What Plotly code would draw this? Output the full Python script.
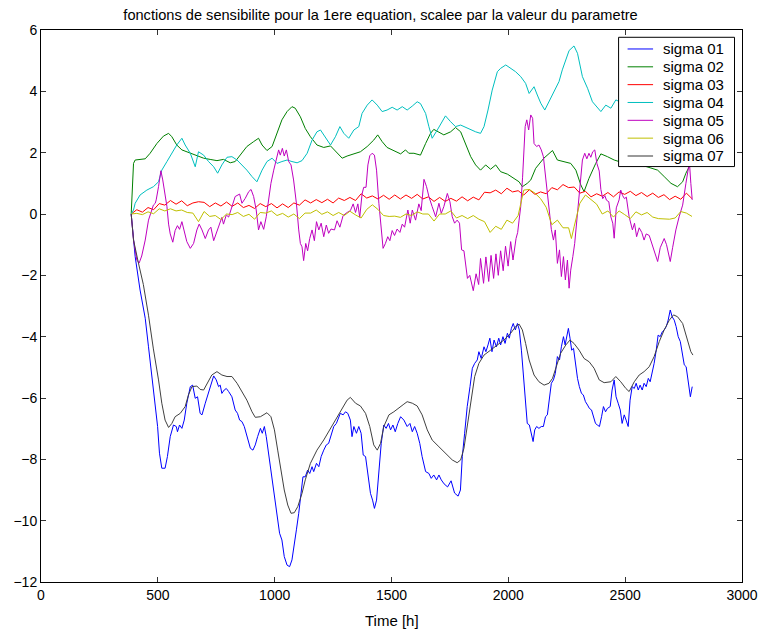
import plotly.graph_objects as go

# Sensitivity functions (scaled by parameter value), time in hours
sigma01 = [(386, 0), (396, -0.8), (403, -1.39), (424, -2.48), (446, -3.4), (460, -4.33), (474, -5.3),
           (489, -6.17), (499, -6.93), (507, -7.8), (517, -8.29), (531, -8.29), (541, -7.91), (553, -7.26),
           (567, -6.88), (579, -6.93), (584, -7.1), (593, -6.88), (603, -6.99), (613, -6.72), (624, -6.17),
           (639, -5.63), (649, -5.58), (660, -6.01), (670, -5.96), (681, -6.5), (689, -6.55), (703, -6.17),
           (721, -5.74), (739, -5.28), (750, -5.41), (760, -5.63), (767, -5.58), (774, -5.85), (784, -5.74),
           (793, -5.69), (803, -5.79), (817, -5.96), (831, -6.39), (841, -6.5), (850, -6.72), (860, -6.77),
           (870, -6.93), (881, -7.21), (896, -7.64), (907, -7.7), (917, -7.53), (927, -7.26), (939, -6.99),
           (947, -7.15), (956, -6.93), (964, -7.26), (974, -7.8), (989, -8.57), (999, -9.11), (1010, -9.76),
           (1021, -10.41), (1031, -10.63), (1041, -11.17), (1053, -11.45), (1064, -11.5), (1074, -11.28),
           (1081, -10.85), (1093, -10.3), (1103, -9.76), (1113, -9.11), (1121, -8.57), (1131, -8.57),
           (1141, -8.35), (1150, -8.46), (1160, -8.24), (1167, -8.4), (1179, -8.13), (1189, -8.24),
           (1199, -7.91), (1210, -7.7), (1221, -7.53), (1231, -7.48), (1241, -7.26), (1253, -6.93),
           (1264, -6.83), (1270, -6.72), (1281, -6.5), (1293, -6.55), (1303, -6.45), (1313, -6.5),
           (1324, -6.72), (1331, -7.26), (1339, -6.93), (1350, -7.15), (1360, -6.93), (1370, -7.15),
           (1379, -7.86), (1389, -7.91), (1399, -8.46), (1410, -9.11), (1419, -9.33), (1427, -9.6),
           (1436, -9.33), (1446, -8.46), (1456, -7.48), (1467, -6.88), (1477, -6.99), (1487, -6.83),
           (1496, -7.04), (1506, -6.88), (1516, -7.1), (1527, -6.83), (1539, -6.61), (1553, -6.72),
           (1567, -6.93), (1579, -6.83), (1589, -7.1), (1599, -6.93), (1610, -7.15), (1621, -7.48),
           (1631, -7.91), (1646, -8.4), (1660, -8.46), (1670, -8.62), (1681, -8.51), (1693, -8.67),
           (1703, -8.51), (1713, -8.67), (1725, -8.8), (1740, -8.9), (1755, -8.7), (1770, -9.1),
           (1785, -9.2), (1795, -9.0), (1803, -7.91), (1813, -7.15), (1824, -6.28), (1836, -5.63),
           (1846, -5.03), (1856, -4.87), (1867, -4.76), (1874, -4.49), (1884, -4.71), (1896, -4.33),
           (1904, -4.49), (1913, -4.27), (1921, -4.05), (1930, -4.49), (1939, -4.11), (1949, -4.33),
           (1959, -4.05), (1967, -4.27), (1977, -4.0), (1986, -4.22), (1996, -3.89), (2004, -4.05),
           (2013, -3.73), (2021, -3.57), (2030, -3.78), (2039, -3.57), (2047, -3.78), (2056, -4.44),
           (2064, -5.3), (2073, -6.07), (2081, -6.83), (2090, -6.88), (2099, -7.15), (2106, -7.42),
           (2113, -7.04), (2121, -6.93), (2131, -6.99), (2141, -6.93), (2150, -6.93), (2159, -6.61),
           (2167, -6.55), (2176, -6.07), (2184, -5.52), (2193, -5.41), (2201, -5.2), (2210, -4.65),
           (2219, -4.76), (2227, -4.33), (2236, -4.0), (2243, -4.27), (2250, -4.0), (2257, -3.73),
           (2264, -4.05), (2271, -4.44), (2279, -4.38), (2287, -4.87), (2296, -5.36), (2304, -5.63),
           (2313, -5.85), (2321, -5.9), (2330, -6.12), (2339, -6.23), (2347, -6.34), (2356, -6.39),
           (2364, -6.61), (2373, -6.83), (2381, -6.88), (2390, -6.93), (2399, -6.61), (2407, -6.28),
           (2416, -6.45), (2424, -6.34), (2436, -6.28), (2444, -5.74), (2453, -5.41), (2461, -5.96),
           (2470, -6.17), (2479, -6.39), (2487, -6.83), (2496, -6.55), (2504, -6.72), (2513, -6.93),
           (2521, -6.07), (2530, -5.63), (2539, -5.69), (2547, -5.52), (2556, -5.74), (2564, -5.58),
           (2573, -5.74), (2581, -5.52), (2590, -5.63), (2599, -5.36), (2607, -5.47), (2616, -5.2),
           (2624, -4.87), (2633, -4.44), (2641, -3.95), (2650, -4.0), (2659, -3.84), (2667, -3.78),
           (2676, -3.67), (2684, -3.46), (2693, -3.13), (2701, -3.35), (2710, -3.46), (2718, -3.67),
           (2727, -4.0), (2736, -4.16), (2744, -4.49), (2753, -4.92), (2761, -4.98), (2770, -5.52),
           (2779, -5.96), (2787, -5.63)]

sigma02 = [(386, 0), (392, 1.0), (396, 1.65), (403, 1.76), (424, 1.78), (446, 1.8), (467, 1.98), (496, 2.3),
           (524, 2.54), (546, 2.63), (560, 2.52), (581, 2.25), (603, 2.09), (624, 2.03), (646, 1.96),
           (667, 1.89), (696, 1.82), (724, 1.78), (753, 1.74), (781, 1.78), (810, 1.67), (831, 1.71),
           (853, 1.92), (881, 2.2), (910, 2.36), (931, 2.47), (946, 2.25), (967, 2.07), (989, 2.2),
           (1010, 2.63), (1031, 3.07), (1053, 3.34), (1074, 3.5), (1088, 3.45), (1110, 3.17), (1131, 2.79),
           (1153, 2.52), (1181, 2.25), (1210, 2.17), (1239, 2.22), (1267, 1.98), (1289, 1.82), (1310, 1.89),
           (1339, 1.96), (1367, 2.03), (1396, 2.2), (1424, 2.41), (1441, 2.58), (1460, 2.36), (1481, 2.17),
           (1510, 2.07), (1539, 1.96), (1560, 2.09), (1574, 1.98), (1596, 1.98), (1624, 1.92), (1646, 2.3),
           (1667, 2.63), (1681, 2.76), (1703, 2.68), (1724, 2.58), (1753, 2.68), (1774, 2.82), (1796, 2.68),
           (1817, 2.3), (1839, 1.87), (1860, 1.6), (1881, 1.43), (1903, 1.6), (1924, 1.46), (1946, 1.6),
           (1967, 1.38), (1996, 1.3), (2024, 1.16), (2046, 1.05), (2060, 0.89), (2081, 1.0), (2096, 1.11),
           (2117, 1.49), (2152, 1.82), (2189, 2.07), (2210, 1.76), (2238, 1.7), (2267, 1.65), (2289, 1.43),
           (2310, 0.95), (2324, 0.73), (2345, 1.16), (2374, 1.65), (2396, 1.96), (2424, 1.87), (2453, 1.76),
           (2474, 1.71), (2510, 1.6), (2540, 1.62), (2567, 1.6), (2610, 1.5), (2639, 1.43), (2667, 1.22),
           (2696, 1.0), (2724, 0.89), (2746, 1.05), (2760, 1.33), (2774, 1.54)]

sigma03 = [(386, 0), (410, 0.14), (434, 0.06), (458, 0.21), (482, 0.14), (506, 0.34), (530, 0.29), (554, 0.44),
           (578, 0.32), (602, 0.43), (626, 0.27), (650, 0.36), (674, 0.4), (698, 0.38), (722, 0.24),
           (746, 0.36), (770, 0.26), (794, 0.39), (818, 0.25), (842, 0.36), (866, 0.21), (890, 0.28),
           (914, 0.18), (938, 0.34), (962, 0.24), (986, 0.34), (1010, 0.2), (1034, 0.33), (1058, 0.21),
           (1082, 0.36), (1106, 0.29), (1130, 0.46), (1154, 0.36), (1178, 0.47), (1202, 0.37), (1226, 0.48),
           (1250, 0.36), (1274, 0.52), (1298, 0.44), (1322, 0.54), (1346, 0.44), (1370, 0.66), (1394, 0.52),
           (1418, 0.59), (1442, 0.49), (1466, 0.61), (1490, 0.48), (1514, 0.62), (1538, 0.49), (1562, 0.62),
           (1586, 0.51), (1610, 0.64), (1634, 0.49), (1658, 0.56), (1682, 0.41), (1706, 0.54), (1730, 0.41),
           (1754, 0.51), (1778, 0.42), (1802, 0.56), (1826, 0.43), (1850, 0.55), (1874, 0.46), (1898, 0.71),
           (1922, 0.69), (1946, 0.78), (1970, 0.66), (1994, 0.84), (2018, 0.72), (2042, 0.76), (2066, 0.62),
           (2090, 0.79), (2114, 0.64), (2138, 0.72), (2162, 0.66), (2186, 0.86), (2210, 0.79), (2234, 0.96),
           (2258, 0.86), (2282, 0.88), (2306, 0.68), (2330, 0.74), (2354, 0.56), (2378, 0.66), (2402, 0.58),
           (2426, 0.7), (2450, 0.56), (2474, 0.72), (2498, 0.64), (2522, 0.74), (2546, 0.6), (2570, 0.7),
           (2594, 0.57), (2618, 0.68), (2642, 0.54), (2666, 0.63), (2690, 0.47), (2714, 0.58), (2738, 0.48),
           (2762, 0.68), (2786, 0.5)]

sigma04 = [(386, 0), (396, 0.13), (403, 0.35), (424, 0.62), (453, 0.78), (481, 0.89), (503, 1.05), (517, 1.43),
           (539, 1.71), (560, 1.98), (581, 2.25), (603, 2.47), (617, 2.25), (639, 1.98), (660, 1.54),
           (674, 2.03), (696, 1.92), (717, 1.71), (739, 1.54), (756, 1.33), (774, 1.6), (796, 1.85),
           (817, 1.87), (839, 1.76), (860, 1.6), (881, 1.43), (903, 1.22), (924, 1.05), (946, 1.43),
           (967, 1.71), (989, 1.82), (1010, 1.65), (1031, 1.71), (1053, 1.76), (1074, 1.71), (1096, 1.67),
           (1117, 1.74), (1139, 1.98), (1160, 2.41), (1181, 2.68), (1196, 2.74), (1217, 2.52), (1239, 2.25),
           (1260, 2.52), (1279, 2.85), (1296, 2.63), (1317, 2.47), (1339, 2.74), (1360, 2.85), (1374, 3.28),
           (1396, 3.55), (1417, 3.72), (1439, 3.55), (1460, 3.34), (1481, 3.39), (1503, 3.48), (1524, 3.39),
           (1546, 3.5), (1567, 3.39), (1589, 3.52), (1610, 3.66), (1624, 3.6), (1646, 3.28), (1660, 2.85),
           (1674, 2.47), (1696, 2.74), (1717, 3.01), (1731, 3.2), (1753, 3.01), (1774, 2.85), (1796, 2.9),
           (1817, 2.83), (1839, 2.74), (1860, 2.68), (1881, 2.63), (1896, 2.85), (1913, 3.39), (1931, 4.04),
           (1953, 4.64), (1967, 4.75), (1989, 4.86), (2010, 4.75), (2031, 4.64), (2053, 4.48), (2074, 4.26),
           (2089, 3.93), (2110, 4.15), (2124, 3.88), (2139, 3.61), (2156, 3.39), (2174, 3.66), (2196, 4.04),
           (2217, 4.32), (2231, 4.7), (2246, 5.02), (2260, 5.33), (2281, 5.48), (2296, 5.24), (2317, 4.48),
           (2339, 4.1), (2360, 3.66), (2381, 3.45), (2396, 3.34), (2417, 3.55), (2439, 3.45), (2460, 3.72),
           (2480, 3.65), (2520, 3.8), (2560, 3.7), (2600, 3.9), (2640, 3.8), (2680, 3.7), (2720, 3.6),
           (2760, 3.5), (2786, 3.5)]

sigma05 = [(386, 0), (396, -0.85), (410, -1.5), (420, -1.6), (431, -1.37), (446, -0.85), (460, -0.2),
           (474, 0.13), (481, 0.29), (489, 0.35), (493, 0.46), (503, 0.89), (513, 1.41), (521, 1.11),
           (531, 0.67), (539, 0.24), (546, -0.33), (553, -0.65), (564, -0.92), (574, -0.54), (584, -0.38),
           (593, -0.5), (603, -0.25), (613, -0.52), (624, -0.9), (639, -1.12), (653, -0.96), (667, -0.52),
           (677, -0.33), (689, -0.52), (703, -0.8), (717, -0.52), (727, -0.43), (739, -0.87), (753, -0.54),
           (764, -0.3), (774, -0.11), (781, -0.33), (793, -0.03), (803, -0.1), (817, 0.24), (831, 0.57),
           (850, 0.65), (860, 0.35), (874, 0.51), (889, 0.73), (899, 0.8), (910, 0.57), (921, 0.13),
           (931, -0.52), (941, -0.25), (953, -0.5), (964, -0.09), (974, 0.51), (984, 1.0), (996, 1.43),
           (1007, 1.82), (1017, 2.09), (1024, 1.92), (1033, 2.14), (1041, 1.89), (1050, 2.09), (1060, 1.71),
           (1070, 1.6), (1081, 1.11), (1093, 0.35), (1103, -0.52), (1110, -0.96), (1117, -1.07), (1124, -1.52),
           (1133, -0.96), (1141, -1.2), (1150, -0.8), (1160, -0.52), (1170, -0.87), (1179, -0.25), (1189, -0.52),
           (1199, -0.3), (1210, -0.74), (1221, -0.36), (1231, -0.63), (1241, -0.49), (1256, -0.52), (1267, -0.22),
           (1279, -0.43), (1293, -0.05), (1310, 0.05), (1324, 0.11), (1336, 0.33), (1346, 0.05), (1356, 0.33),
           (1364, -0.11), (1374, 0.65), (1381, 0.87), (1391, 0.87), (1399, 1.6), (1407, 1.9), (1417, 1.98),
           (1427, 1.92), (1436, 1.43), (1446, 0.35), (1456, -0.52), (1464, -1.12), (1474, -0.96), (1484, -0.74),
           (1493, -0.87), (1503, -0.54), (1513, -0.7), (1524, -0.49), (1536, -0.6), (1546, -0.33), (1556, -0.43),
           (1563, -0.2), (1570, 0.13), (1580, -0.3), (1589, 0.13), (1603, -0.2), (1617, 0.33), (1627, 0.11),
           (1639, 1.13), (1650, 0.89), (1660, 0.57), (1674, 0.24), (1689, -0.09), (1703, 0.35), (1713, 0.02),
           (1724, 0.24), (1739, 0.67), (1750, 0.4), (1760, -0.09), (1770, -0.3), (1781, -0.2), (1791, -0.3),
           (1800, -1.17), (1810, -1.2), (1817, -1.72), (1825, -2.1), (1835, -2.0), (1850, -2.5), (1862, -1.95),
           (1873, -2.3), (1881, -1.45), (1894, -2.26), (1904, -1.4), (1916, -2.2), (1926, -1.35), (1937, -2.1),
           (1947, -1.3), (1957, -2.0), (1967, -1.2), (1978, -1.85), (1988, -1.05), (1999, -1.7), (2010, -0.9),
           (2020, -1.5), (2033, -0.8), (2040, -0.6), (2046, -0.2), (2053, 0.24), (2061, 1.2), (2067, 2.3),
           (2072, 2.85), (2079, 3.07), (2087, 2.74), (2096, 3.23), (2104, 3.12), (2110, 2.3), (2121, 2.2),
           (2131, 2.25), (2141, 2.09), (2150, 1.87), (2160, 1.11), (2174, 0.24), (2184, -0.5), (2193, -0.85),
           (2201, -0.52), (2210, -1.61), (2219, -1.17), (2227, -2.04), (2236, -1.39), (2244, -2.15), (2253, -1.5),
           (2260, -2.42), (2267, -1.83), (2276, -1.39), (2284, -0.96), (2296, 0.03), (2305, 0.89), (2317, 1.76),
           (2327, 1.98), (2336, 1.8), (2345, 1.98), (2353, 1.85), (2361, 2.03), (2370, 2.09), (2379, 1.65),
           (2389, 1.4), (2396, 0.8), (2404, 0.5), (2413, 0.6), (2420, 0.45), (2430, 0.4), (2439, -0.1),
           (2447, -0.3), (2453, -0.79), (2462, 0.2), (2474, 0.46), (2481, 0.78), (2489, 0.6), (2497, 0.5),
           (2505, 0.55), (2517, -0.09), (2531, -0.52), (2540, -0.3), (2549, -0.74), (2560, -0.45), (2571, -0.6),
           (2581, -0.85), (2590, -0.65), (2603, -0.7), (2624, -1.17), (2639, -1.55), (2650, -1.1), (2667, -0.8),
           (2677, -1.0), (2693, -1.55), (2703, -1.1), (2717, -0.52), (2731, -0.09), (2746, 0.29), (2760, 1.0),
           (2769, 1.43), (2775, 1.7), (2781, 1.0), (2787, 0.46)]

sigma06 = [(386, 0), (410, 0.02), (434, -0.02), (458, 0.07), (482, 0.01), (506, 0.17), (530, 0.1), (554, 0.17),
           (578, 0.1), (602, 0.13), (626, 0.05), (650, 0.03), (674, -0.25), (698, 0.08), (722, -0.08),
           (746, -0.05), (770, -0.18), (794, 0.0), (818, -0.02), (842, 0.05), (866, -0.08), (890, -0.01),
           (914, -0.17), (938, 0.05), (962, 0.03), (986, 0.1), (1010, -0.05), (1034, 0.02), (1058, -0.1),
           (1082, 0.0), (1106, -0.15), (1130, 0.03), (1154, 0.03), (1178, 0.13), (1202, -0.01), (1226, 0.07),
           (1250, -0.05), (1274, 0.05), (1298, -0.05), (1322, 0.09), (1346, -0.03), (1370, -0.13), (1394, 0.15),
           (1418, 0.3), (1442, 0.15), (1466, -0.05), (1490, -0.08), (1514, -0.07), (1538, -0.11), (1562, 0.0),
           (1586, -0.05), (1610, 0.07), (1634, 0.0), (1658, 0.0), (1682, -0.23), (1706, 0.0), (1730, 0.0),
           (1754, 0.1), (1778, -0.13), (1802, -0.05), (1826, -0.15), (1850, -0.05), (1874, -0.17), (1898, -0.25),
           (1922, -0.6), (1946, -0.4), (1970, -0.5), (1994, -0.2), (2018, -0.3), (2042, -0.05), (2066, 0.78),
           (2090, 0.8), (2114, 0.68), (2138, 0.5), (2162, 0.22), (2186, -0.35), (2210, -0.2), (2234, -0.45),
           (2258, -0.45), (2270, -0.8), (2282, -0.4), (2306, 0.35), (2330, 0.62), (2354, 0.48), (2378, 0.32),
           (2402, 0.0), (2426, 0.1), (2450, -0.1), (2474, 0.1), (2498, -0.02), (2522, -0.15), (2546, 0.07),
           (2570, -0.03), (2594, 0.05), (2618, -0.1), (2642, -0.15), (2666, -0.17), (2690, -0.17), (2714, -0.13),
           (2738, 0.08), (2762, 0.03), (2786, -0.08)]

sigma07 = [(386, 0), (396, -0.85), (417, -1.6), (438, -2.3), (460, -3.3), (474, -4.1), (481, -4.4), (503, -5.41),
           (517, -6.17), (531, -6.72), (546, -6.96), (560, -6.83), (574, -6.61), (596, -6.5), (617, -6.28),
           (631, -5.9), (646, -5.63), (667, -5.61), (681, -5.72), (696, -5.74), (713, -5.52), (731, -5.25),
           (753, -5.14), (774, -5.25), (796, -5.3), (817, -5.3), (839, -5.52), (860, -5.79), (881, -6.07),
           (903, -6.45), (917, -6.63), (939, -6.61), (967, -6.48), (984, -6.61), (999, -7.04), (1013, -7.7),
           (1027, -8.35), (1041, -9.0), (1056, -9.49), (1070, -9.76), (1084, -9.74), (1099, -9.54),
           (1117, -9.11), (1131, -8.67), (1153, -8.13), (1181, -7.7), (1210, -7.37), (1239, -6.99),
           (1267, -6.61), (1289, -6.34), (1310, -6.07), (1324, -5.98), (1346, -6.17), (1367, -6.26),
           (1389, -6.5), (1407, -6.93), (1424, -7.53), (1439, -7.7), (1453, -7.48), (1467, -6.93),
           (1489, -6.55), (1510, -6.45), (1531, -6.34), (1553, -6.2), (1567, -6.12), (1589, -6.17),
           (1610, -6.26), (1631, -6.55), (1653, -7.04), (1674, -7.37), (1703, -7.59), (1731, -7.8),
           (1760, -8.02), (1781, -8.11), (1796, -8.02), (1810, -7.64), (1824, -6.93), (1839, -6.07),
           (1856, -5.3), (1874, -4.87), (1896, -4.6), (1924, -4.44), (1953, -4.27), (1981, -4.11),
           (2010, -3.89), (2031, -3.67), (2046, -3.59), (2060, -3.78), (2074, -4.22), (2089, -4.76),
           (2110, -5.25), (2131, -5.47), (2153, -5.58), (2174, -5.52), (2189, -5.36), (2203, -5.03),
           (2224, -4.54), (2246, -4.27), (2264, -4.11), (2281, -4.22), (2303, -4.44), (2324, -4.71),
           (2346, -4.82), (2367, -5.03), (2389, -5.41), (2410, -5.5), (2439, -5.47), (2460, -5.3),
           (2481, -5.47), (2503, -5.69), (2517, -5.79), (2539, -5.47), (2560, -5.25), (2581, -5.14),
           (2603, -4.98), (2624, -4.65), (2646, -4.16), (2667, -3.78), (2689, -3.46), (2707, -3.29),
           (2724, -3.35), (2746, -3.57), (2764, -4.05), (2781, -4.49), (2790, -4.6)]

series_names = ["sigma 01", "sigma 02", "sigma 03", "sigma 04", "sigma 05", "sigma 06", "sigma 07"]
series_data = [sigma01, sigma02, sigma03, sigma04, sigma05, sigma06, sigma07]
series_colors = ["#0000FF", "#008000", "#FF0000", "#00BFBF", "#BF00BF", "#BFBF00", "#404040"]
legend_swatch_colors = ["#0000FF", "#008000", "#FF0000", "#00BFBF", "#BF00BF", "#BFBF00", "#999999"]

x_ticks = [0, 500, 1000, 1500, 2000, 2500, 3000]
y_ticks = [-12, -10, -8, -6, -4, -2, 0, 2, 4, 6]

FONT = "Liberation Sans, Arial, Helvetica, sans-serif"

# Figure / axes box geometry in pixels
W, H = 761, 631
M_L, M_R, M_T, M_B = 41, 18.5, 30, 48.5
PLOT_W = W - M_L - M_R
PLOT_H = H - M_T - M_B


def px_x(px):
    """Horizontal pixel position -> paper fraction of the axes box."""
    return (px - M_L) / PLOT_W


def px_y(py):
    """Vertical pixel position (from top) -> paper fraction of the axes box."""
    return 1 - (py - M_T) / PLOT_H


fig = go.Figure()
for name, data, color in zip(series_names, series_data, series_colors):
    fig.add_trace(go.Scatter(
        x=[p[0] for p in data],
        y=[p[1] for p in data],
        mode="lines",
        name=name,
        line=dict(color=color, width=1),
        showlegend=False,
    ))

axis_style = dict(
    showgrid=False,
    zeroline=False,
    showline=True,
    linecolor="#000000",
    linewidth=1,
    mirror="ticks",
    ticks="inside",
    ticklen=5,
    tickcolor="#333333",
    automargin=False,
    tickfont=dict(family=FONT, size=14, color="#000000"),
)

# Boxed legend in the upper-right corner of the axes
LEG_L, LEG_R, LEG_T, LEG_B = 619, 735, 37.3, 166.7
ROW0, ROW_STEP = 49.0, 17.85
shapes = [dict(type="rect", xref="paper", yref="paper",
               x0=px_x(LEG_L), x1=px_x(LEG_R), y0=px_y(LEG_B), y1=px_y(LEG_T),
               fillcolor="white", line=dict(color="#000000", width=1), layer="above")]
annotations = []
for i, (name, color) in enumerate(zip(series_names, legend_swatch_colors)):
    yc = ROW0 + i * ROW_STEP
    shapes.append(dict(type="line", xref="paper", yref="paper",
                       x0=px_x(628), x1=px_x(653.5), y0=px_y(yc), y1=px_y(yc),
                       line=dict(color=color, width=2 if i == 6 else 1), layer="above"))
    annotations.append(dict(text=name, xref="paper", yref="paper", x=px_x(661.5), y=px_y(yc),
                            xanchor="left", yanchor="middle", showarrow=False,
                            font=dict(family=FONT, size=15, color="#000000")))

annotations.append(dict(text="Time [h]", xref="paper", yref="paper", x=0.5, y=px_y(621),
                        xanchor="center", yanchor="middle", showarrow=False,
                        font=dict(family=FONT, size=15, color="#000000")))

fig.update_layout(
    width=W,
    height=H,
    margin=dict(l=M_L, r=M_R, t=M_T, b=M_B, autoexpand=False),
    paper_bgcolor="white",
    plot_bgcolor="white",
    font=dict(family=FONT, size=14, color="#000000"),
    title=dict(
        text="fonctions de sensibilite pour la 1ere equation, scalee par la valeur du parametre",
        x=0.5, xanchor="center",
        y=1 - 14.5 / H, yanchor="middle", yref="container",
        font=dict(family=FONT, size=14.6, color="#000000"),
    ),
    xaxis=dict(range=[0, 3000], tickvals=x_ticks, **axis_style),
    yaxis=dict(range=[-12, 6], tickvals=y_ticks, **axis_style),
    showlegend=False,
    shapes=shapes,
    annotations=annotations,
)

fig.write_html("out.html")
